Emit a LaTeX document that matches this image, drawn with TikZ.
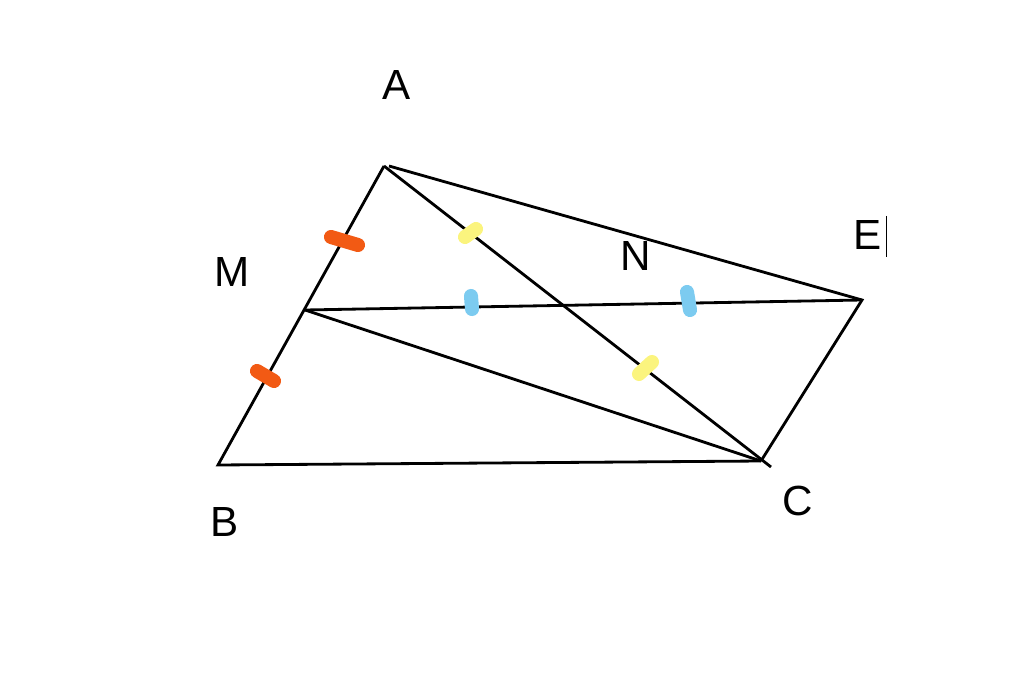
\documentclass[tikz,border=0pt]{standalone}
\usepackage{fontspec}
\setmainfont{Liberation Sans}
\usepackage{tikz}
\usetikzlibrary{positioning, calc}
\definecolor{tickorange}{HTML}{F25A14}
\definecolor{tickyellow}{HTML}{FBF47E}
\definecolor{tickblue}{HTML}{7CCBF0}

\begin{document}
\begin{tikzpicture}[x=0.02cm, y=-0.02cm,
  side/.style={line width=1.6pt, black},
  lbl/.style={font=\fontsize{24}{28}\selectfont, inner sep=0pt},
  tick/.style={line width=8pt, line cap=round}
]
  \useasboundingbox (0,0) rectangle (1024,699);
  % points
  \coordinate (A) at (384,166);
  \coordinate (A2) at (389,166);
  \coordinate (B) at (218,465);
  \coordinate (C) at (761,461);
  \coordinate (C2) at (771,467);
  \coordinate (M) at (305,310);
  \coordinate (E) at (862,300);

  % labels
  \node[lbl] (la) at (397,85) {A};
  \node[lbl] (lm) at (232,272) {M};
  \node[lbl] (ln) at (636,256) {N};
  \node[lbl] (le) at (868,235) {E};
  \node[lbl] (lb) at (225,522) {B};
  \node[lbl] (lc) at (798,501) {C};
  \draw[line width=0.5pt] ($(le.east)+(4,-19)$) -- ($(le.east)+(4,22)$);

  % sides
  \draw[side] (A) -- (B) -- (C);
  \draw[side] (A) -- (C2);
  \draw[side] (A2) -- (E) -- (C);
  \draw[side] (M) -- (E);
  \draw[side] (M) -- (C);

  % equal marks
  \draw[tick, tickorange] (331,237) -- (358,245);
  \draw[tick, tickorange] (257,371) -- (274,381);
  \draw[tick, tickyellow] (465,237) -- (476,229);
  \draw[tick, tickyellow] (639,374) -- (652,362);
  \draw[tick, tickblue] (471,296) -- (472,309);
  \draw[tick, tickblue] (687,292) -- (690,310);
\end{tikzpicture}
\end{document}
